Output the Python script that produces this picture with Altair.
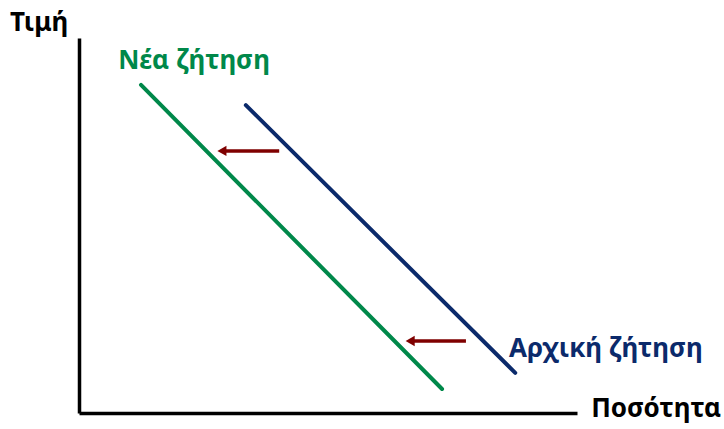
import altair as alt
import pandas as pd

# Demand curves: endpoints in (quantity, price) units
new_demand_q = [1.245, 7.29]
new_demand_p = [8.75, 0.64]
old_demand_q = [3.35, 8.76]
old_demand_p = [8.21, 1.07]

# Leftward shift arrows: start quantity, end quantity, price level
arrow_from_q = [4.02, 7.77]
arrow_to_q = [2.87, 6.65]
arrow_p = [6.99, 1.92]

# Text labels
label_text = ["Τιμή", "Ποσότητα", "Νέα ζήτηση", "Αρχική ζήτηση"]
label_q = [-0.8, 11.59, 2.31, 10.58]
label_p = [10.4, 0.1, 9.38, 1.7]
label_color = ["#000000", "#000000", "#00884A", "#0B2A6B"]

GREEN = "#00884A"
NAVY = "#0B2A6B"
ARROW = "#7F0000"
FONT = "Noto Sans"

xs = alt.Scale(domain=[0, 10], nice=False, zero=False)
ys = alt.Scale(domain=[0, 10], nice=False, zero=False)

curves = pd.DataFrame({
    "q": new_demand_q + old_demand_q,
    "p": new_demand_p + old_demand_p,
    "curve": ["new"] * 2 + ["old"] * 2,
})

axes_base = alt.Chart(pd.DataFrame({"q": [0], "p": [0]})).mark_point(opacity=0).encode(
    x=alt.X("q:Q", scale=xs, axis=alt.Axis(domainColor="black", domainWidth=3.5,
                                              labels=False, ticks=False, grid=False, title=None)),
    y=alt.Y("p:Q", scale=ys, axis=alt.Axis(domainColor="black", domainWidth=3.5,
                                              labels=False, ticks=False, grid=False, title=None)),
)

lines = alt.Chart(curves).mark_line(strokeWidth=4, strokeCap="round").encode(
    x=alt.X("q:Q", scale=xs),
    y=alt.Y("p:Q", scale=ys),
    detail="curve:N",
    color=alt.Color("curve:N", scale=alt.Scale(domain=["new", "old"], range=[GREEN, NAVY]), legend=None),
)

arrows = pd.DataFrame({"q1": arrow_from_q, "q2": arrow_to_q, "p": arrow_p})

shafts = alt.Chart(arrows).mark_rule(color=ARROW, strokeWidth=3.5).encode(
    x=alt.X("q1:Q", scale=xs), x2="q2", y=alt.Y("p:Q", scale=ys)
)

heads = alt.Chart(arrows).mark_point(
    shape="triangle-left", filled=True, color=ARROW, size=110, opacity=1
).encode(x=alt.X("q2:Q", scale=xs), y=alt.Y("p:Q", scale=ys))

labels = pd.DataFrame({"t": label_text, "q": label_q, "p": label_p, "c": label_color})
texts = alt.Chart(labels).mark_text(font=FONT, fontWeight="bold", fontSize=26).encode(
    x=alt.X("q:Q", scale=xs),
    y=alt.Y("p:Q", scale=ys),
    text="t:N",
    color=alt.Color("c:N", scale=None),
)

chart = alt.layer(axes_base, lines, shafts, heads, texts).properties(
    width=498, height=375,
    padding={"left": 79, "top": 38, "right": 147, "bottom": 16},
    autosize=alt.AutoSizeParams(type="none"),
    background="white",
).configure_view(stroke=None)

chart.save("out.html", embed_options={"renderer": "svg", "actions": False})
